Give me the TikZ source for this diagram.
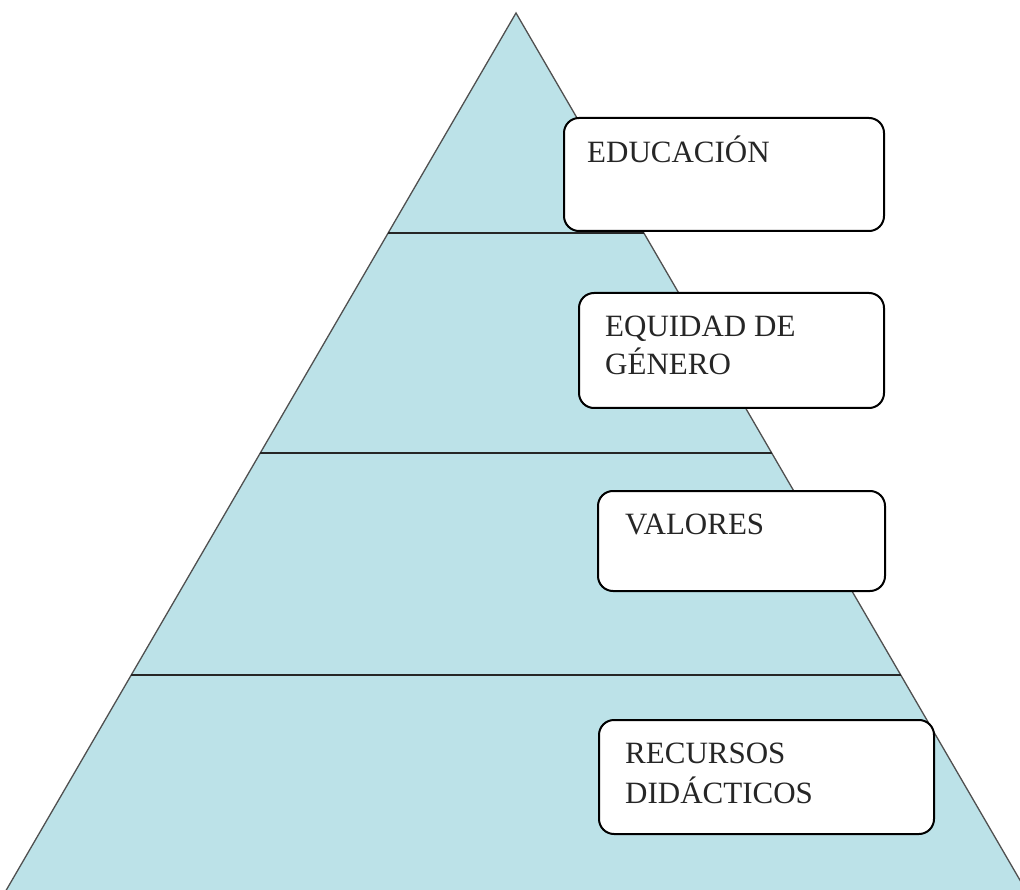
\documentclass[tikz,border=0pt]{standalone}
\usepackage{fontspec}
\setmainfont{Liberation Serif}
\definecolor{pyrfill}{RGB}{188,226,232}
\definecolor{pyredge}{RGB}{80,80,80}
\tikzset{
  levelbox/.style={draw=black, line width=2pt, fill=white, rounded corners=15pt, rectangle, inner sep=0pt, anchor=north west},
  lbl/.style={font=\fontsize{31}{39}\selectfont, inner sep=0pt, anchor=base west, text=black!85},
  divider/.style={draw=black!85, line width=1.2pt},
}
\begin{document}
\begin{tikzpicture}[x=1pt,y=-1pt]
\useasboundingbox (0,0) rectangle (1020,890);
\clip (0,0) rectangle (1020,890);
% pyramid
\coordinate (apex) at (516,13);
\coordinate (bl) at (0.5,900);
\coordinate (br) at (1031.5,900);
\filldraw[fill=pyrfill, draw=pyredge, line width=1.3pt] (apex) -- (bl) -- (br) -- cycle;
% dividers
\coordinate (l1) at (388,233); \coordinate (r1) at (644,233);
\coordinate (l2) at (260,453); \coordinate (r2) at (772,453);
\coordinate (l3) at (131,675); \coordinate (r3) at (901,675);
\draw[divider] (l1) -- (r1);
\draw[divider] (l2) -- (r2);
\draw[divider] (l3) -- (r3);
% boxes
\node[levelbox, minimum width=320pt, minimum height=113pt] (b1) at (563,117) {};
\node[lbl] (t1) at (587,163) {EDUCACIÓN};
\node[levelbox, minimum width=305pt, minimum height=115pt] (b2) at (578,292) {};
\node[lbl] (t2a) at (605,337) {EQUIDAD DE};
\node[lbl] (t2b) at (605,375) {GÉNERO};
\node[levelbox, minimum width=287pt, minimum height=100pt] (b3) at (597,490) {};
\node[lbl] (t3) at (625,534) {VALORES};
\node[levelbox, minimum width=335pt, minimum height=114pt] (b4) at (598,719) {};
\node[lbl] (t4a) at (625,763) {RECURSOS};
\node[lbl] (t4b) at (625,803) {DIDÁCTICOS};
\end{tikzpicture}
\end{document}
